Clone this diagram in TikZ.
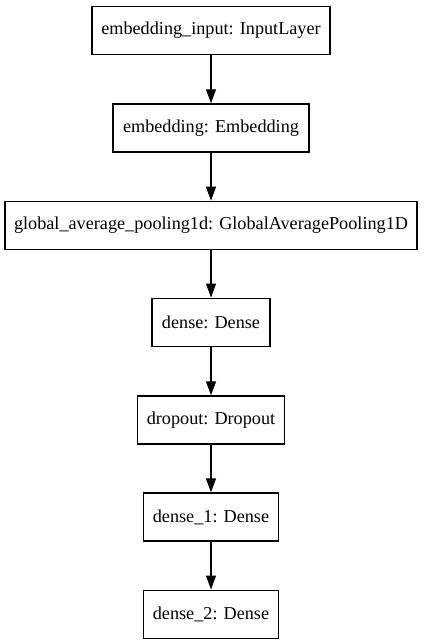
\documentclass[tikz,border=0pt]{standalone}
\usepackage{fontspec}
\newfontfamily\timesfont{Liberation Serif}
\usetikzlibrary{arrows.meta}
\begin{document}
\begin{tikzpicture}[x=1pt,y=-1pt,
  layer/.style={draw, line width=1.3pt, rectangle, minimum height=48pt, inner xsep=0pt, font=\timesfont\fontsize{18.2}{22}\selectfont, anchor=north},
  conn/.style={line width=1.3pt, -{Triangle[length=14pt,width=10pt]}}]
\useasboundingbox (0,0) rectangle (423,644);
\node[layer, minimum width=238pt] (a) at (211,5.7) {embedding\_input: InputLayer};
\node[layer, minimum width=196pt] (b) at (211,103.3) {embedding: Embedding};
\node[layer, minimum width=412pt] (c) at (211,200.7) {global\_average\_pooling1d: GlobalAveragePooling1D};
\node[layer, minimum width=118pt] (d) at (211,297.5) {dense: Dense};
\node[layer, minimum width=147pt] (e) at (211,395.3) {dropout: Dropout};
\node[layer, minimum width=135pt] (f) at (211,492.3) {dense\_1: Dense};
\node[layer, minimum width=135pt] (g) at (211,589.5) {dense\_2: Dense};
\draw[conn] (a) -- (b);
\draw[conn] (b) -- (c);
\draw[conn] (c) -- (d);
\draw[conn] (d) -- (e);
\draw[conn] (e) -- (f);
\draw[conn] (f) -- (g);
\end{tikzpicture}
\end{document}
